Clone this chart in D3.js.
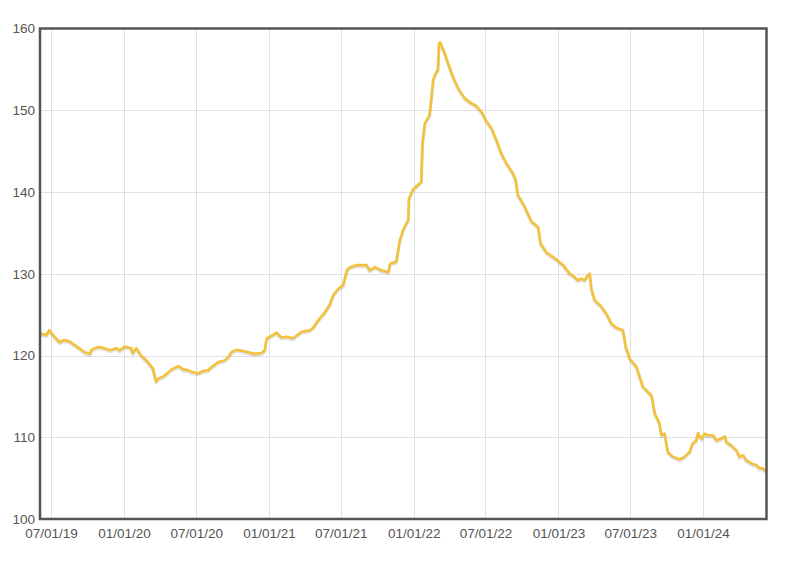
<!DOCTYPE html>
<html>
<head>
<meta charset="utf-8">
<script src="https://cdn.jsdelivr.net/npm/d3@7"></script>
<style>
  html, body { margin: 0; padding: 0; background: #fff; }
  svg { display: block; }
  text { font-family: "Liberation Sans", Arial, sans-serif; }
</style>
</head>
<body>
<svg id="chart" width="796" height="566"></svg>
<script>
const dates = [
  "2019-06-03","2019-06-12","2019-06-19","2019-06-26","2019-07-06","2019-07-23","2019-08-02","2019-08-17",
  "2019-09-07","2019-09-24","2019-10-07","2019-10-11","2019-10-28","2019-11-13","2019-11-26","2019-12-13",
  "2019-12-21","2020-01-03","2020-01-19","2020-01-23","2020-02-01","2020-02-13","2020-03-01","2020-03-14",
  "2020-03-22","2020-03-28","2020-04-08","2020-04-21","2020-04-30","2020-05-17","2020-05-30","2020-06-11",
  "2020-06-19","2020-07-06","2020-07-19","2020-07-31","2020-08-09","2020-08-26","2020-09-11","2020-09-20",
  "2020-09-28","2020-10-09","2020-10-23","2020-11-09","2020-11-26","2020-12-13","2020-12-21","2020-12-26",
  "2021-01-07","2021-01-20","2021-02-01","2021-02-14","2021-03-03","2021-03-24","2021-04-14","2021-04-22",
  "2021-05-05","2021-05-22","2021-06-03","2021-06-12","2021-06-25","2021-07-07","2021-07-16","2021-07-24",
  "2021-08-10","2021-09-04","2021-09-12","2021-09-25","2021-10-12","2021-10-29","2021-11-02","2021-11-18",
  "2021-11-27","2021-12-05","2021-12-18","2021-12-20","2021-12-30","2022-01-16","2022-01-20","2022-01-23",
  "2022-01-29","2022-02-10","2022-02-15","2022-02-19","2022-02-26","2022-03-03","2022-03-06","2022-03-09",
  "2022-03-20","2022-03-29","2022-04-10","2022-04-23","2022-05-10","2022-05-22","2022-06-08","2022-06-21",
  "2022-07-03","2022-07-16","2022-07-29","2022-08-10","2022-08-23","2022-09-08","2022-09-15","2022-09-21",
  "2022-10-08","2022-10-25","2022-11-11","2022-11-17","2022-12-02","2022-12-23","2023-01-13","2023-01-30",
  "2023-02-11","2023-02-19","2023-02-28","2023-03-08","2023-03-13","2023-03-21","2023-03-25","2023-04-02",
  "2023-04-19","2023-05-02","2023-05-15","2023-05-27","2023-06-13","2023-06-20","2023-06-30","2023-07-17",
  "2023-07-25","2023-08-02","2023-08-15","2023-08-24","2023-09-01","2023-09-13","2023-09-18","2023-09-26",
  "2023-10-04","2023-10-17","2023-11-03","2023-11-15","2023-11-28","2023-12-05","2023-12-15","2023-12-19",
  "2023-12-28","2024-01-05","2024-01-13","2024-01-26","2024-02-04","2024-02-14","2024-02-25","2024-02-29",
  "2024-03-12","2024-03-25","2024-04-02","2024-04-11","2024-04-19","2024-05-02","2024-05-14","2024-05-23",
  "2024-05-31","2024-06-09"
];
const values = [
  122.7,122.6,122.5,123.1,122.5,121.6,121.9,121.7,
  121.0,120.4,120.2,120.7,121.05,120.9,120.65,120.9,
  120.6,121.1,120.9,120.3,120.9,120.0,119.2,118.4,
  116.8,117.2,117.4,117.9,118.3,118.7,118.3,118.2,
  118.0,117.8,118.1,118.2,118.6,119.2,119.4,119.8,
  120.4,120.7,120.6,120.4,120.2,120.3,120.65,122.1,
  122.4,122.8,122.2,122.3,122.1,122.9,123.1,123.4,
  124.3,125.3,126.2,127.4,128.2,128.6,130.4,130.8,
  131.05,131.05,130.4,130.8,130.4,130.2,131.2,131.5,
  134.1,135.3,136.6,139.2,140.3,141.05,141.2,145.9,
  148.4,149.4,151.65,153.7,154.6,154.9,158.2,158.3,
  157.0,155.7,154.1,152.7,151.45,151.0,150.5,149.8,
  148.7,147.8,146.3,144.7,143.5,142.3,141.5,139.6,
  138.2,136.4,135.7,133.7,132.6,131.9,131.05,130.0,
  129.6,129.2,129.4,129.2,129.6,130.0,128.2,126.8,
  126.0,125.1,123.9,123.4,123.1,121.05,119.6,118.6,
  117.4,116.2,115.55,115.1,112.9,111.7,110.25,110.45,
  108.2,107.6,107.3,107.6,108.2,109.2,109.6,110.5,
  109.8,110.45,110.25,110.25,109.6,109.8,110.1,109.4,
  109.0,108.4,107.6,107.8,107.2,106.8,106.6,106.2,
  106.2,105.75
];
const xTickLabels = ["07/01/19","01/01/20","07/01/20","01/01/21","07/01/21","01/01/22","07/01/22","01/01/23","07/01/23","01/01/24"];
const yTicks = [100,110,120,130,140,150,160];
const xDomain = ["2019-06-03","2024-06-09"];
const yDomain = [100,160];

(function(){
const parse = d3.timeParse("%Y-%m-%d");
const parseTick = d3.timeParse("%m/%d/%y");
const data = dates.map((d,i)=>({date: parse(d), value: values[i]}));

const pL = 40, pR = 766.5, pT = 28.5, pB = 519;
const svg = d3.select("#chart");

const x = d3.scaleTime().domain(xDomain.map(parse)).range([pL, pR]);
const y = d3.scaleLinear().domain(yDomain).range([pB, pT]);

const tickDates = xTickLabels.map(parseTick);

// grid
const grid = svg.append("g");
grid.selectAll("line.v").data(tickDates).join("line")
  .attr("x1", d=>Math.round(x(d))+0.5).attr("x2", d=>Math.round(x(d))+0.5)
  .attr("y1", pT).attr("y2", pB)
  .attr("stroke", "#e0e0e0").attr("stroke-width", 1);
grid.selectAll("line.h").data(yTicks.filter(v=>v>100 && v<160)).join("line")
  .attr("x1", pL).attr("x2", pR)
  .attr("y1", d=>Math.round(y(d))+0.5).attr("y2", d=>Math.round(y(d))+0.5)
  .attr("stroke", "#e0e0e0").attr("stroke-width", 1);

// axes
const xAxis = d3.axisBottom(x).tickValues(tickDates).tickFormat(d3.timeFormat("%m/%d/%y")).tickSize(0).tickPadding(8);
const gx = svg.append("g").attr("transform", `translate(0,${pB})`).call(xAxis);
gx.select(".domain").remove();
gx.selectAll("text").attr("fill", "#555").style("font-size", "13.5px").attr("dy", "0.85em");

const yAxis = d3.axisLeft(y).tickValues(yTicks).tickSize(0).tickPadding(5);
const gy = svg.append("g").attr("transform", `translate(${pL},0)`).call(yAxis);
gy.select(".domain").remove();
gy.selectAll("text").attr("fill", "#555").style("font-size", "13.5px");

// line
const line = d3.line().x(d=>x(d.date)).y(d=>y(d.value)).curve(d3.curveLinear);
svg.append("clipPath").attr("id","clip").append("rect")
  .attr("x", pL).attr("y", pT).attr("width", pR-pL).attr("height", pB-pT);
const lg = svg.append("g").attr("clip-path","url(#clip)");
lg.append("path").datum(data).attr("d", line)
  .attr("fill","none").attr("stroke","rgba(0,0,0,0.12)").attr("stroke-width",3)
  .attr("stroke-linejoin","round").attr("transform","translate(0,1.5)");
lg.append("path").datum(data).attr("d", line)
  .attr("fill","none").attr("stroke","#f2c23a").attr("stroke-width",2.6)
  .attr("stroke-linejoin","round");

// frame
svg.append("rect").attr("x", pL).attr("y", pT).attr("width", pR-pL).attr("height", pB-pT)
  .attr("fill","none").attr("stroke","#555").attr("stroke-width",2.5);
})();
</script>
</body>
</html>
